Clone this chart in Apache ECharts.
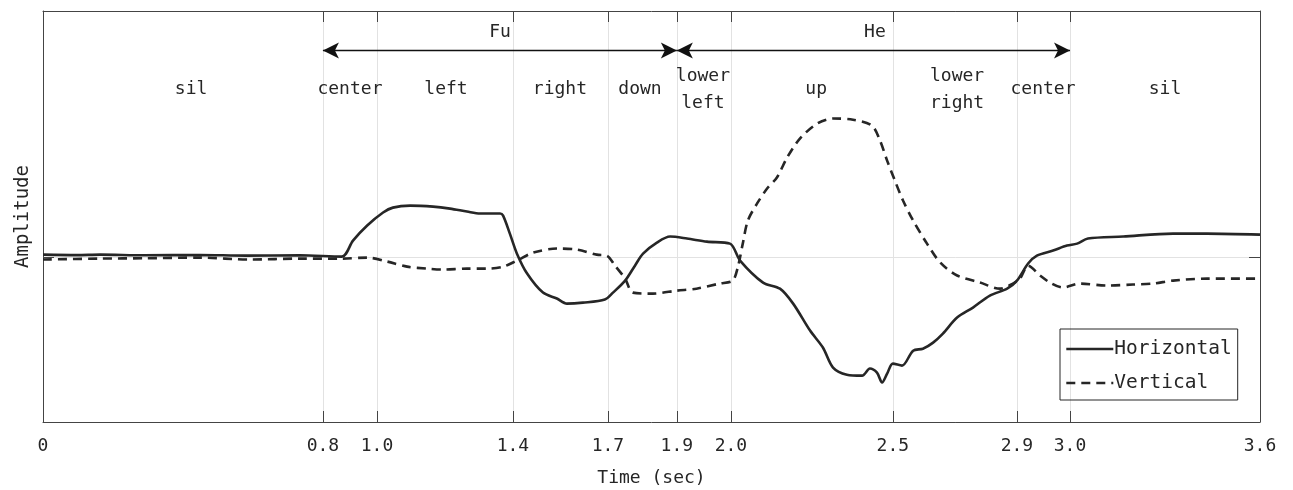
<!DOCTYPE html>
<html>
<head>
<meta charset="utf-8">
<script src="https://cdn.jsdelivr.net/npm/echarts@6/dist/echarts.min.js"></script>
<style>
  html, body { margin: 0; padding: 0; background: #fff; }
  #chart { width: 1293px; height: 490px; }
</style>
</head>
<body>
<div id="chart"></div>
<script>
// tick positions (boundaries of the segments) and their printed labels
const tickTimes = [0, 0.828, 0.988, 1.390, 1.671, 1.875, 2.035, 2.514, 2.881, 3.038, 3.6];
const tickLabels = ['0', '0.8', '1.0', '1.4', '1.7', '1.9', '2.0', '2.5', '2.9', '3.0', '3.6'];

// horizontal component (solid)
const hTime = [0, 0.10, 0.169, 0.30, 0.464, 0.60, 0.760, 0.884, 0.917, 0.959, 1.006, 1.035, 1.086, 1.154,
  1.204, 1.254, 1.293, 1.352, 1.361, 1.381, 1.402, 1.432, 1.479, 1.520, 1.550, 1.597, 1.662, 1.686,
  1.722, 1.751, 1.775, 1.816, 1.855, 1.905, 1.964, 2.032, 2.062, 2.130, 2.180, 2.219, 2.269, 2.307,
  2.337, 2.378, 2.423, 2.446, 2.467, 2.482, 2.497, 2.514, 2.541, 2.574, 2.603, 2.633, 2.662, 2.704,
  2.751, 2.801, 2.852, 2.881, 2.914, 2.940, 2.988, 3.029, 3.059, 3.091, 3.195, 3.343, 3.443, 3.6];
const hAmp = [0.018, 0.015, 0.018, 0.014, 0.016, 0.012, 0.014, 0.006, 0.103, 0.195, 0.274, 0.304, 0.316, 0.310,
  0.298, 0.280, 0.268, 0.268, 0.255, 0.146, 0.024, -0.097, -0.213, -0.249, -0.280, -0.274, -0.255, -0.213,
  -0.140, -0.049, 0.024, 0.091, 0.128, 0.116, 0.097, 0.085, -0.018, -0.152, -0.189, -0.280, -0.444, -0.547,
  -0.669, -0.712, -0.718, -0.675, -0.700, -0.760, -0.706, -0.645, -0.657, -0.566, -0.554, -0.517, -0.462, -0.365,
  -0.304, -0.231, -0.189, -0.140, -0.036, 0.012, 0.043, 0.073, 0.085, 0.116, 0.128, 0.146, 0.146, 0.140];

// vertical component (dashed)
const vTime = [0, 0.169, 0.30, 0.464, 0.612, 0.760, 0.884, 0.959, 1.018, 1.077, 1.136, 1.183, 1.254, 1.313,
  1.361, 1.402, 1.450, 1.520, 1.579, 1.638, 1.668, 1.692, 1.722, 1.745, 1.804, 1.875, 1.933, 2.001,
  2.040, 2.055, 2.070, 2.085, 2.112, 2.142, 2.171, 2.201, 2.239, 2.290, 2.337, 2.396, 2.452, 2.476,
  2.497, 2.520, 2.544, 2.574, 2.615, 2.654, 2.704, 2.772, 2.831, 2.869, 2.890, 2.914, 2.950, 2.979,
  3.017, 3.067, 3.147, 3.224, 3.283, 3.343, 3.443, 3.6];
const vAmp = [-0.012, -0.006, -0.004, 0.0, -0.012, -0.006, -0.006, 0.0, -0.024, -0.055, -0.067, -0.073, -0.067, -0.067,
  -0.055, -0.018, 0.030, 0.055, 0.049, 0.018, 0.012, -0.049, -0.128, -0.213, -0.219, -0.201, -0.189, -0.158,
  -0.140, -0.061, 0.085, 0.225, 0.328, 0.420, 0.487, 0.608, 0.724, 0.815, 0.846, 0.839, 0.803, 0.712,
  0.590, 0.468, 0.347, 0.225, 0.085, -0.030, -0.109, -0.152, -0.189, -0.158, -0.128, -0.049, -0.110, -0.152,
  -0.182, -0.158, -0.170, -0.164, -0.158, -0.140, -0.128, -0.128];

// segment labels along the top
const segNames = ['sil', 'center', 'left', 'right', 'down', 'lower\nleft', 'up', 'lower\nright', 'center', 'sil'];
const segTimes = [0.438, 0.908, 1.192, 1.529, 1.766, 1.952, 2.287, 2.704, 2.958, 3.319];
const segLevel = 1.022;

// word spans (arrows)
const wordNames = ['Fu', 'He'];
const wordStart = [0.828, 1.875];
const wordEnd = [1.875, 3.038];
const wordLabelTimes = [1.352, 2.461];
const arrowLevel = 1.259;
const wordLevel = 1.369;

const ink = '#262626';
const font = 'DejaVu Sans Mono';

const chart = echarts.init(document.getElementById('chart'));

const hData = hTime.map((t, i) => [t, hAmp[i]]);
const vData = vTime.map((t, i) => [t, vAmp[i]]);
const annData = segTimes.map((t, i) => ({ value: [t, segLevel], name: segNames[i] }))
  .concat(wordLabelTimes.map((t, i) => ({ value: [t, wordLevel], name: wordNames[i] })));

function tickText(v) {
  let best = 0;
  tickTimes.forEach((t, i) => { if (Math.abs(t - v) < Math.abs(tickTimes[best] - v)) best = i; });
  return tickLabels[best];
}

const frameLine = { onZero: false, show: true, lineStyle: { color: '#444', width: 1 } };

chart.setOption({
  animation: false,
  textStyle: { fontFamily: font },
  grid: { left: 43, right: 33, top: 11, bottom: 68, containLabel: false, outerBoundsMode: 'none' },
  legend: {
    data: ['Horizontal', 'Vertical'],
    orient: 'vertical',
    left: 1060,
    top: 329,
    itemWidth: 47,
    itemHeight: 14,
    itemGap: 14,
    padding: [10, 6, 7, 5],
    borderColor: ink,
    borderWidth: 1,
    itemStyle: { opacity: 0 },
    lineStyle: { width: 2.6 },
    textStyle: { fontFamily: font, fontSize: 19.5, color: ink, padding: [0, 0, 0, -4] }
  },
  xAxis: [{
    type: 'value',
    min: 0,
    max: 3.6,
    position: 'bottom',
    name: 'Time (sec)',
    nameLocation: 'middle',
    nameGap: 47,
    nameTextStyle: { fontFamily: font, fontSize: 18, color: ink },
    axisLine: frameLine,
    axisTick: { inside: true, length: 11, customValues: tickTimes, lineStyle: { color: '#444' } },
    axisLabel: { customValues: tickTimes, formatter: tickText, margin: 15, fontFamily: font, fontSize: 18, color: ink },
    splitLine: { show: true, lineStyle: { color: '#e2e2e2', width: 1 } }
  }, {
    type: 'value',
    min: 0,
    max: 3.6,
    position: 'top',
    axisLine: frameLine,
    axisTick: { inside: true, length: 11, customValues: tickTimes, lineStyle: { color: '#444' } },
    axisLabel: { show: false },
    splitLine: { show: false }
  }],
  yAxis: [{
    type: 'value',
    min: -1,
    max: 1.5,
    position: 'left',
    name: 'Amplitude',
    nameLocation: 'middle',
    nameRotate: 90,
    nameGap: 10,
    nameTextStyle: { fontFamily: font, fontSize: 19, color: ink },
    axisLine: frameLine,
    axisTick: { show: true, inside: true, length: 11, customValues: [0], lineStyle: { color: '#444' } },
    axisLabel: { show: false },
    splitLine: { show: true, lineStyle: { color: '#e2e2e2', width: 1 } }
  }, {
    type: 'value',
    min: -1,
    max: 1.5,
    position: 'right',
    axisLine: frameLine,
    axisTick: { show: true, inside: true, length: 11, customValues: [0], lineStyle: { color: '#444' } },
    axisLabel: { show: false },
    splitLine: { show: false }
  }],
  series: [{
    name: 'Horizontal',
    type: 'line',
    data: hData,
    symbol: 'none',
    smooth: 0.3,
    lineStyle: { color: ink, width: 2.6 },
    itemStyle: { color: ink },
    z: 3,
    markLine: {
      silent: true,
      symbol: ['arrow', 'arrow'],
      symbolSize: [12, 16],
      label: { show: false },
      lineStyle: { color: '#111', width: 1.3, type: 'solid' },
      data: wordNames.map((n, i) => [
        { coord: [wordStart[i], arrowLevel] },
        { coord: [wordEnd[i], arrowLevel] }
      ])
    }
  }, {
    name: 'Vertical',
    type: 'line',
    data: vData,
    symbol: 'none',
    smooth: 0.3,
    lineStyle: { color: ink, width: 2.6, type: [9, 6] },
    itemStyle: { color: ink },
    z: 2
  }, {
    name: 'labels',
    type: 'scatter',
    data: annData,
    symbolSize: 0,
    silent: true,
    itemStyle: { opacity: 1, color: ink },
    label: {
      show: true,
      position: 'inside',
      formatter: '{b}',
      fontFamily: font,
      fontSize: 18,
      lineHeight: 27,
      color: ink
    }
  }]
});
</script>
</body>
</html>
